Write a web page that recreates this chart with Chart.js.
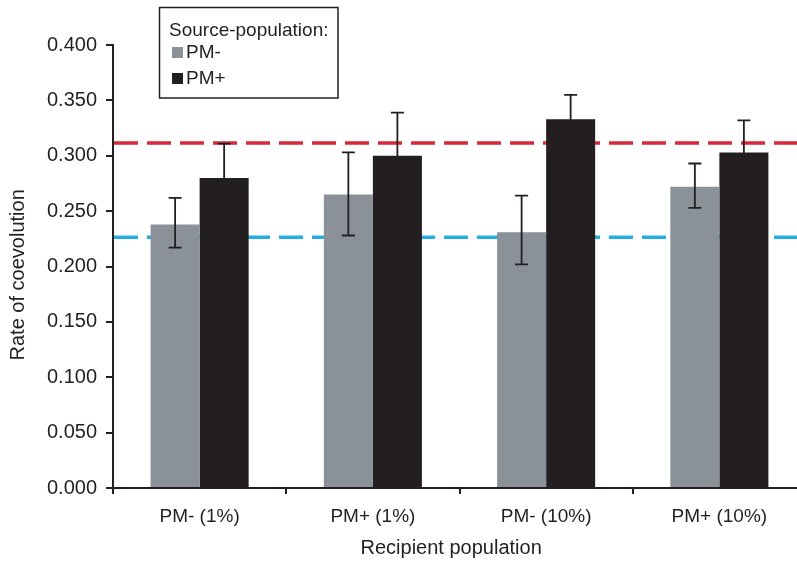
<!DOCTYPE html>
<html lang="en">
<head>
  <meta charset="UTF-8">
  <title>Rate of coevolution</title>
  <script src="https://cdn.jsdelivr.net/npm/chart.js"></script>
  <style>
    html, body { margin: 0; padding: 0; background: #fff; overflow: hidden; }
    #wrap { width: 820px; height: 562px; }
  </style>
</head>
<body>
  <div id="wrap"><canvas id="chart"></canvas></div>
  <script>
    const categories = ['PM- (1%)', 'PM+ (1%)', 'PM- (10%)', 'PM+ (10%)'];
    const seriesLabels = ['PM-', 'PM+'];
    const pmMinus = [0.238, 0.265, 0.231, 0.272];
    const pmPlus = [0.280, 0.300, 0.333, 0.303];
    const pmMinusLow = [0.217, 0.228, 0.202, 0.253];
    const pmMinusHigh = [0.262, 0.303, 0.264, 0.293];
    const pmPlusLow = [0.249, 0.261, 0.311, 0.274];
    const pmPlusHigh = [0.311, 0.339, 0.355, 0.332];
    const refLines = [0.3115, 0.2265];
    const refColors = ['#d8293a', '#27aee0'];

    const ink = '#231f20';
    const font = 'Liberation Sans, Arial, sans-serif';

    // dashed reference lines, behind the bars
    const refPlugin = {
      id: 'refLines',
      beforeDatasetsDraw(chart) {
        const { ctx, chartArea, scales } = chart;
        ctx.save();
        ctx.lineWidth = 3.5;
        ctx.setLineDash([24, 9]);
        refLines.forEach((v, i) => {
          const y = scales.y.getPixelForValue(v);
          ctx.strokeStyle = refColors[i];
          ctx.beginPath();
          ctx.moveTo(chartArea.left + 1, y);
          ctx.lineTo(chartArea.right, y);
          ctx.stroke();
        });
        ctx.restore();
      }
    };

    const errorPlugin = {
      id: 'errorBars',
      afterDatasetsDraw(chart) {
        const { ctx, scales } = chart;
        const lows = [pmMinusLow, pmPlusLow];
        const highs = [pmMinusHigh, pmPlusHigh];
        ctx.save();
        ctx.strokeStyle = ink;
        ctx.lineWidth = 1.8;
        chart.data.datasets.forEach((ds, d) => {
          chart.getDatasetMeta(d).data.forEach((bar, i) => {
            const x = bar.x;
            const yl = scales.y.getPixelForValue(lows[d][i]);
            const yh = scales.y.getPixelForValue(highs[d][i]);
            ctx.beginPath();
            ctx.moveTo(x, yl); ctx.lineTo(x, yh);
            ctx.moveTo(x - 6.5, yl); ctx.lineTo(x + 6.5, yl);
            ctx.moveTo(x - 6.5, yh); ctx.lineTo(x + 6.5, yh);
            ctx.stroke();
          });
        });
        ctx.restore();
      }
    };

    const legendPlugin = {
      id: 'boxLegend',
      afterDraw(chart) {
        const ctx = chart.ctx;
        ctx.save();
        ctx.fillStyle = '#fff';
        ctx.fillRect(159, 7, 179, 91);
        ctx.strokeStyle = ink;
        ctx.lineWidth = 1.5;
        ctx.strokeRect(159.5, 7.5, 178.5, 90.5);
        ctx.fillStyle = ink;
        ctx.font = '19px ' + font;
        ctx.textBaseline = 'alphabetic';
        ctx.fillText('Source-population:', 169, 36);
        chart.data.datasets.forEach((ds, i) => {
          const y = 47 + i * 26;
          ctx.fillStyle = ds.backgroundColor;
          ctx.fillRect(172, y, 11, 11);
          ctx.fillStyle = ink;
          ctx.fillText(ds.label, 186, y + 11);
        });
        ctx.restore();
      }
    };

    new Chart(document.getElementById('chart'), {
      type: 'bar',
      data: {
        labels: categories,
        datasets: [
          { label: seriesLabels[0], data: pmMinus, backgroundColor: '#8a9199' },
          { label: seriesLabels[1], data: pmPlus, backgroundColor: ink }
        ]
      },
      options: {
        responsive: true,
        maintainAspectRatio: false,
        animation: false,
        devicePixelRatio: 1,
        layout: { padding: { top: 45, right: 14, left: 0, bottom: 0 } },
        datasets: { bar: { barPercentage: 1, categoryPercentage: 0.566 } },
        plugins: { legend: { display: false }, tooltip: { enabled: false } },
        scales: {
          x: {
            afterFit(scale) { scale.height = 74; },
            grid: { display: true, drawOnChartArea: false, offset: true, tickLength: 6, color: ink, lineWidth: 2 },
            border: { display: true, color: ink, width: 2 },
            ticks: { color: ink, padding: 11, font: { family: font, size: 19 } },
            title: {
              display: true, text: 'Recipient population   ', color: ink,
              padding: { top: 0, bottom: 2 }, font: { family: font, size: 20 }
            }
          },
          y: {
            min: 0, max: 0.4,
            afterFit(scale) { scale.width = 113; },
            grid: { display: true, drawOnChartArea: false, tickLength: 7, color: ink, lineWidth: 2 },
            border: { display: true, color: ink, width: 2 },
            ticks: {
              stepSize: 0.05, color: ink, padding: 9,
              font: { family: font, size: 20 },
              callback: v => v.toFixed(3)
            },
            title: {
              display: true, text: 'Rate of coevolution   ', color: ink,
              padding: { top: 6, bottom: 0 }, font: { family: font, size: 20 }
            }
          }
        }
      },
      plugins: [refPlugin, errorPlugin, legendPlugin]
    });
  </script>
</body>
</html>
